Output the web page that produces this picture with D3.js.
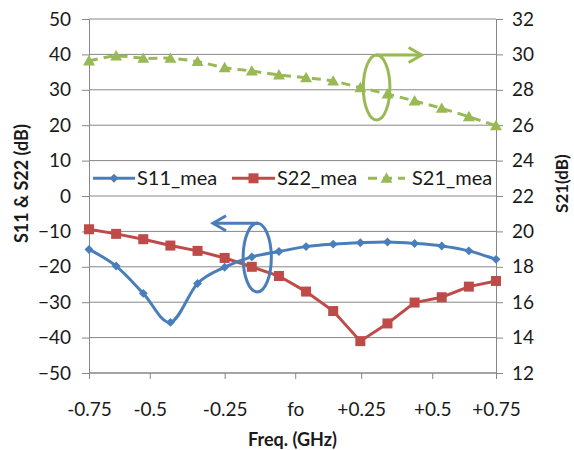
<!DOCTYPE html>
<html><head><meta charset="utf-8">
<script src="https://cdn.jsdelivr.net/npm/d3@7"></script>
<style>body{margin:0;background:#fff}svg{display:block}text{font-family:Lato,"Open Sans",sans-serif;fill:#1a1a1a}</style>
</head><body>
<svg id="c" width="574" height="450"></svg>
<script>
// ---- data ----
const pointIdx = [0,1,2,3,4,5,6,7,8,9,10,11,12,13,14,15];
const s11 = [-15.1,-19.8,-27.5,-35.7,-24.7,-20.1,-17.2,-15.7,-14.3,-13.6,-13.2,-13.0,-13.4,-14.1,-15.5,-17.9];
const s22 = [-9.4,-10.7,-12.2,-14.0,-15.5,-17.5,-20.0,-22.6,-27.0,-32.5,-41.0,-36.0,-30.1,-28.6,-25.6,-24.0];
const s21 = [29.63,29.91,29.78,29.78,29.59,29.25,29.06,28.84,28.68,28.49,28.12,27.76,27.37,26.95,26.48,25.97];
const xTickPos = [0,2.24,5.0,7.6,10.03,12.65,15];
const xTickLabels = ["-0.75","-0.5","-0.25","fo","+0.25","+0.5","+0.75"];
const leftTicks = [-50,-40,-30,-20,-10,0,10,20,30,40,50];
const rightTicks = [12,14,16,18,20,22,24,26,28,30,32];
const seriesNames = ["S11_mea","S22_mea","S21_mea"];

const C = {s11:"#4a7ebb", s22:"#be4b48", s21:"#98b954", grid:"#878787"};
const W = 574, H = 450;
const m = {left:89, right:78, top:19, bottom:77};
const svg = d3.select("#c");
const x = d3.scaleLinear().domain([0,15]).range([m.left, W - m.right]);
const yL = d3.scaleLinear().domain([-50,50]).range([H - m.bottom, m.top]);
const yR = d3.scaleLinear().domain([12,32]).range([H - m.bottom, m.top]);

// gridlines
svg.append("g").selectAll("line").data(leftTicks).join("line")
  .attr("x1", x(0)).attr("x2", x(15)).attr("y1", d=>yL(d)).attr("y2", d=>yL(d))
  .attr("stroke", C.grid).attr("stroke-width", 1);

const axL = svg.append("g").attr("transform", `translate(${x(0)},0)`)
  .call(d3.axisLeft(yL).tickValues(leftTicks).tickSize(7).tickPadding(11));
const axR = svg.append("g").attr("transform", `translate(${x(15)},0)`)
  .call(d3.axisRight(yR).tickValues(rightTicks).tickSize(7).tickPadding(9));
const axB = svg.append("g").attr("transform", `translate(0,${yL(-50)})`)
  .call(d3.axisBottom(x).tickValues(xTickPos).tickFormat((d,i)=>xTickLabels[i]).tickSize(6).tickPadding(24));
[axL, axR, axB].forEach(a=>{
  a.select(".domain").attr("stroke", C.grid).attr("stroke-width",1);
  a.selectAll(".tick line").attr("stroke", C.grid);
  a.selectAll("text").attr("font-size", 19).attr("font-family","Lato,sans-serif").attr("fill","#1a1a1a");
});
axB.selectAll(".domain").attr("d", `M${x(0)},0H${x(15)}`);

// axis titles
svg.append("text").attr("transform", `translate(28,${yL(3.5)}) rotate(-90)`)
  .attr("text-anchor","middle").attr("font-size",18).attr("font-weight","bold").text("S11 & S22 (dB)");
svg.append("text").attr("transform", `translate(568,${yR(22.7)}) rotate(-90)`)
  .attr("text-anchor","middle").attr("font-size",17).attr("font-weight","bold").text("S21(dB)");
svg.append("text").attr("x", x(7.5)).attr("y", 446)
  .attr("text-anchor","middle").attr("font-size",18).attr("font-weight","bold").text("Freq. (GHz)");

// lines
const smooth = d3.curveCardinal.tension(0);
const lineL = d3.line().x((d,i)=>x(pointIdx[i])).y(d=>yL(d)).curve(smooth);
const lineLs = d3.line().x((d,i)=>x(pointIdx[i])).y(d=>yL(d));
const lineR = d3.line().x((d,i)=>x(pointIdx[i])).y(d=>yR(d)).curve(smooth);

svg.append("path").attr("d", lineR(s21)).attr("fill","none").attr("stroke",C.s21)
  .attr("stroke-width",3).attr("stroke-dasharray","9,6");
svg.append("path").attr("d", lineLs(s22)).attr("fill","none").attr("stroke",C.s22).attr("stroke-width",3);
svg.append("path").attr("d", lineL(s11)).attr("fill","none").attr("stroke",C.s11).attr("stroke-width",3);

// markers
const tri = d3.symbol(d3.symbolTriangle, 62);
const diamond = d3.symbol(d3.symbolSquare, 40);
function drawTri(g, cx, cy){ g.append("path").attr("d", tri()).attr("transform",`translate(${cx},${cy+1})`).attr("fill",C.s21); }
function drawSq(g, cx, cy){ g.append("rect").attr("x",cx-5).attr("y",cy-5).attr("width",10).attr("height",10).attr("fill",C.s22); }
function drawDia(g, cx, cy){ g.append("path").attr("d", diamond()).attr("transform",`translate(${cx},${cy}) rotate(45)`).attr("fill",C.s11); }

const gm = svg.append("g");
s21.forEach((v,i)=>drawTri(gm, x(pointIdx[i]), yR(v)));
s22.forEach((v,i)=>drawSq(gm, x(pointIdx[i]), yL(v)));
s11.forEach((v,i)=>drawDia(gm, x(pointIdx[i]), yL(v)));

// annotations (in data coordinates)
function annot(color, cx, cy, rx, ry, tipX){
  const g = svg.append("g").attr("fill","none").attr("stroke",color).attr("stroke-width",3);
  const px = x(cx), py = yL(cy), prx = x(cx+rx)-x(cx), pry = yL(cy)-yL(cy+ry);
  g.append("ellipse").attr("cx",px).attr("cy",py).attr("rx",prx).attr("ry",pry);
  const ty = py - pry, tx = x(tipX), dir = tx > px ? 1 : -1;
  g.append("line").attr("x1",px-dir*1).attr("y1",ty).attr("x2",tx).attr("y2",ty);
  g.append("path").attr("d",`M${tx-dir*13},${ty-7.5}L${tx},${ty}L${tx-dir*13},${ty+7.5}`).attr("stroke-linejoin","miter");
}
annot(C.s21, 10.6, 30.65, 0.49, 9.2, 12.26);
annot(C.s11, 6.2, -17.4, 0.52, 9.7, 4.57);

// legend
const ly = yL(5);
const lg = svg.append("g");
const legItems = [
  {name:seriesNames[0], c:C.s11, x0:93, x1:135, tx:137, mk:drawDia, dash:null},
  {name:seriesNames[1], c:C.s22, x0:232, x1:275, tx:277, mk:drawSq, dash:null},
  {name:seriesNames[2], c:C.s21, x0:368, x1:405, tx:412, mk:drawTri, dash:"9,6"}
];
legItems.forEach(it=>{
  lg.append("line").attr("x1",it.x0).attr("x2",it.x1).attr("y1",ly).attr("y2",ly)
    .attr("stroke",it.c).attr("stroke-width",3).attr("stroke-dasharray",it.dash);
  it.mk(lg,(it.x0+it.x1)/2, ly);
  lg.append("text").attr("x",it.tx).attr("y",ly+7).attr("font-size",20).text(it.name);
});
</script>
</body></html>
